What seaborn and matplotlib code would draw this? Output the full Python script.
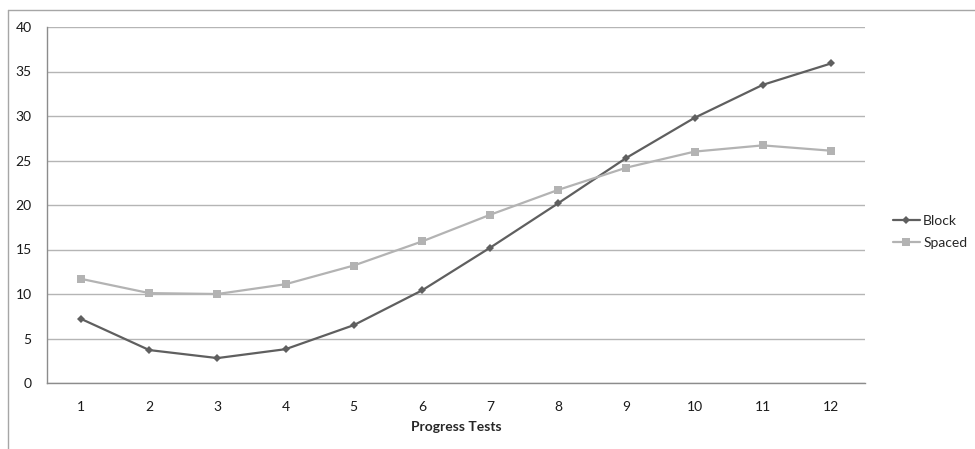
import matplotlib
matplotlib.use("Agg")
import matplotlib.pyplot as plt
import seaborn as sns
import pandas as pd
from matplotlib.lines import Line2D

tests = [1, 2, 3, 4, 5, 6, 7, 8, 9, 10, 11, 12]
block = [7.2, 3.7, 2.8, 3.8, 6.5, 10.4, 15.2, 20.2, 25.3, 29.8, 33.5, 35.9]
spaced = [11.7, 10.1, 10.0, 11.1, 13.2, 15.9, 18.9, 21.7, 24.2, 26.0, 26.7, 26.1]
series_names = ["Block", "Spaced"]
y_ticks = [0, 5, 10, 15, 20, 25, 30, 35, 40]

df = pd.DataFrame({
    "Progress Tests": tests * 2,
    "Value": block + spaced,
    "Series": [series_names[0]] * len(tests) + [series_names[1]] * len(tests),
})

sns.set_style("white")
plt.rcParams["font.family"] = ["Lato", "DejaVu Sans"]

fig = plt.figure(figsize=(9.75, 4.49), dpi=100)
ax = fig.add_axes([47 / 975, 1 - 383 / 449, (865 - 47) / 975, (383 - 27) / 449])

palette = {"Block": "#5f5f5f", "Spaced": "#b3b3b3"}
sizes = {"Block": 4.2, "Spaced": 5.8}
markers = {"Block": "D", "Spaced": "s"}
for name in series_names:
    sns.lineplot(data=df[df["Series"] == name], x="Progress Tests", y="Value",
                 color=palette[name], marker=markers[name], markersize=sizes[name],
                 markeredgewidth=0, linewidth=1.6, ax=ax, legend=False)

ax.set_xlim(0.5, 12.5)
ax.set_ylim(0, 40)
ax.set_xticks(tests)
ax.set_xticklabels([str(t) for t in tests])
ax.set_yticks(y_ticks)
ax.set_yticklabels([str(t) for t in y_ticks])
ax.yaxis.grid(True, color="#b5b5b5", linewidth=1)
ax.set_axisbelow(True)
ax.tick_params(axis="both", length=0, labelsize=10, colors="#1a1a1a")
ax.tick_params(axis="x", pad=13)
ax.tick_params(axis="y", pad=11)
for s in ["top", "right"]:
    ax.spines[s].set_visible(False)
for s in ["left", "bottom"]:
    ax.spines[s].set_color("#8c8c8c")
    ax.spines[s].set_linewidth(1)
ax.set_xlabel("Progress Tests", fontsize=10, fontweight="bold", labelpad=6)
ax.set_ylabel("")

handles = [
    Line2D([], [], color=palette["Block"], marker="D", markersize=4.2, markeredgewidth=0, linewidth=1.6),
    Line2D([], [], color=palette["Spaced"], marker="s", markersize=5.8, markeredgewidth=0, linewidth=1.6),
]
fig.legend(handles, series_names, loc="center left", bbox_to_anchor=(880 / 975, 1 - 232 / 449),
           frameon=False, fontsize=10, handlelength=2.0, handletextpad=0.2, labelspacing=0.7)

# outer chart border (partially cropped)
fig.add_artist(Line2D([8 / 975, 1.0], [1 - 10 / 449, 1 - 10 / 449], transform=fig.transFigure,
                      color="#a6a6a6", linewidth=1))
fig.add_artist(Line2D([8 / 975, 8 / 975], [0, 1 - 10 / 449], transform=fig.transFigure,
                      color="#a6a6a6", linewidth=1))

fig.savefig("out.png", dpi=100)
